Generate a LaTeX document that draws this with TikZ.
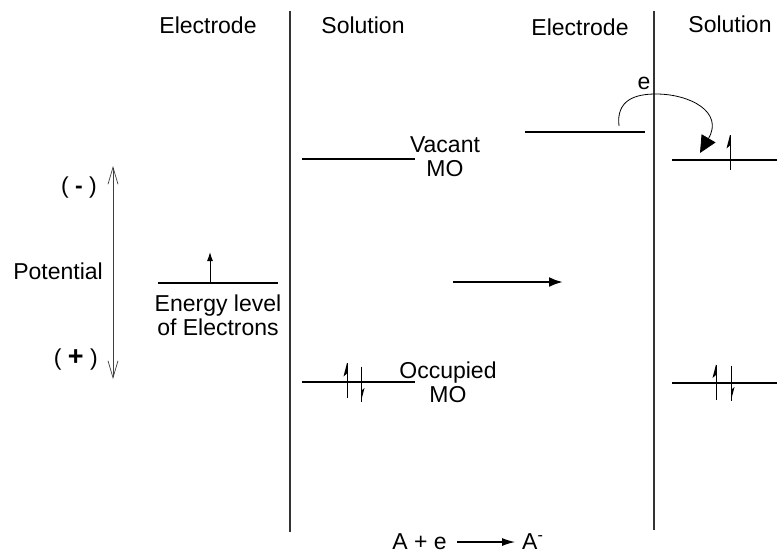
\documentclass[tikz,border=0pt]{standalone}
\usepackage{fontspec}
\setmainfont{Liberation Sans}
\usetikzlibrary{arrows.meta,positioning}

\begin{document}
\begin{tikzpicture}[
  x=1pt, y=-1pt,
  every node/.style={font=\fontsize{23}{24}\selectfont, inner sep=0pt, align=center},
  wall/.style={draw=black!80, line width=1.3pt},
  level/.style={draw=black, line width=1.1pt},
  flow/.style={-{Latex[length=14pt,width=10pt]}, line width=2.4pt},
  axis/.style={{Straight Barb[length=17pt,width=10pt]}-{Straight Barb[length=17pt,width=10pt]}, draw=black!75, line width=0.7pt},
  spinup/.pic={
    \draw[line width=1pt] (0,17.5) -- (0,-17.5);
    \fill (0,-17.5) -- (-3.5,-4) -- (0,-7) -- cycle;},
  spindown/.pic={
    \draw[line width=1pt] (0,-17.5) -- (0,17.5);
    \fill (0,17.5) -- (3.5,4) -- (0,7) -- cycle;}
]
  \useasboundingbox (0,0) rectangle (777,558);

  % Interfaces electrode | solution
  \coordinate (wallLtop) at (290,11);  \coordinate (wallLbot) at (290,532);
  \coordinate (wallRtop) at (654,11);  \coordinate (wallRbot) at (654,530);
  \draw[wall] (wallLtop) -- (wallLbot);
  \draw[wall] (wallRtop) -- (wallRbot);

  % Headings
  \node (electrodeL) at (208,25) {Electrode};
  \node (solutionL)  at (363,25) {Solution};
  \node (electrodeR) at (580,27) {Electrode};
  \node (solutionR)  at (730,24) {Solution};

  % Potential axis
  \coordinate (potTop) at (113,166);
  \coordinate (potBot) at (113,379);
  \draw[axis] (potBot) -- (potTop);
  \node[anchor=east] (potential) at (103,271) {Potential};
  \node[anchor=east] (minus) at (97,188) {( \textbf{-} )};
  \node[anchor=east] (plus)  at (98,360) {( {\fontsize{27}{27}\selectfont\textbf{+}} )};

  % Before: electrode level and MOs of solution
  \coordinate (fermiA) at (158,283); \coordinate (fermiB) at (278,283);
  \draw[level] (fermiA) -- (fermiB);
  \coordinate (elecFoot) at (210,283); \coordinate (elecTip) at (210,252);
  \draw[-{Latex[length=9pt,width=6pt]}, line width=1pt] (elecFoot) -- (elecTip);
  \node (fermiLbl) at (218,315) {Energy level\\of Electrons};

  \coordinate (lumoA) at (302,159); \coordinate (lumoB) at (415,159);
  \draw[level] (lumoA) -- (lumoB);
  \node (lumoLbl) at (445,157) {Vacant\\MO};

  \coordinate (homoA) at (302,382); \coordinate (homoB) at (415,382);
  \draw[level] (homoA) -- (homoB);
  \pic at (347,380.5) {spinup};
  \pic at (361,384) {spindown};
  \node (homoLbl) at (448,382) {Occupied\\MO};

  % Shift of potential
  \coordinate (shiftA) at (453,282); \coordinate (shiftB) at (563,282);
  \draw[flow] (shiftA) -- (shiftB);

  % After: electron transferred to the vacant MO
  \coordinate (fermiC) at (525,132); \coordinate (fermiD) at (645,132);
  \draw[level] (fermiC) -- (fermiD);
  \coordinate (lumoC) at (672,160); \coordinate (lumoD) at (777,160);
  \draw[level] (lumoC) -- (lumoD);
  \pic at (730,152.5) {spinup};
  \coordinate (homoC) at (672,383); \coordinate (homoD) at (777,383);
  \draw[level] (homoC) -- (homoD);
  \pic at (716,382) {spinup};
  \pic at (731,383) {spindown};

  \coordinate (jumpFrom) at (619,126);
  \coordinate (jumpTo)   at (700,153);
  \draw[-{Triangle[length=17pt,width=16pt]}, line width=0.8pt]
    (jumpFrom) .. controls (616,100) and (635,94) .. (656,94)
    .. controls (690,94) and (724,112) .. (jumpTo);
  \node (eLbl) at (644,83) {e};

  % Reaction
  \node[anchor=east] (reactL) at (447,542) {A + e};
  \node[anchor=west] (reactR) at (522,542) {A\textsuperscript{-}};
  \coordinate (rxA) at (457,542); \coordinate (rxB) at (515,542);
  \draw[-{Latex[length=13pt,width=8pt]}, line width=1.1pt] (rxA) -- (rxB);
\end{tikzpicture}
\end{document}
